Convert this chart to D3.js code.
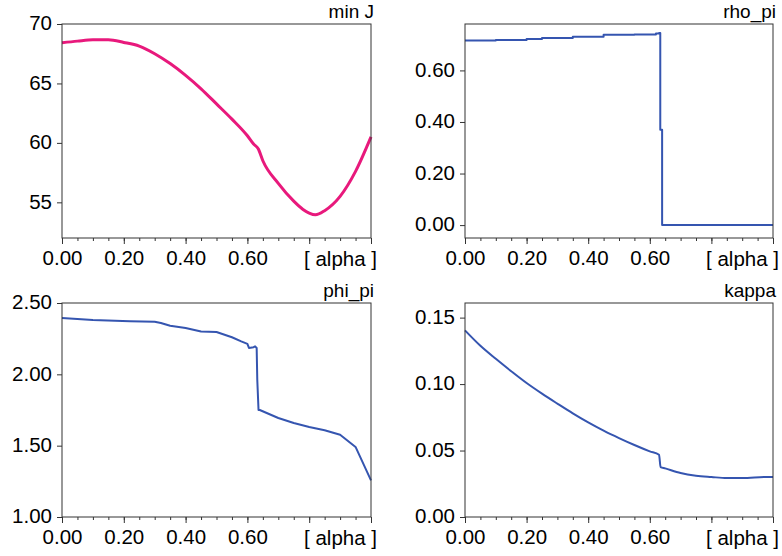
<!DOCTYPE html>
<html>
<head>
<meta charset="utf-8">
<script src="https://cdn.jsdelivr.net/npm/d3@7"></script>
<style>
  body { margin: 0; background: #fff; }
  svg { display: block; font-family: "Liberation Sans", Arial, sans-serif; }
</style>
</head>
<body>
<div id="chart"></div>
<script>
// alpha grid and values
const minJAlpha = [0, 0.05, 0.10, 0.15, 0.20, 0.25, 0.30, 0.35, 0.40, 0.45, 0.50, 0.55, 0.60, 0.62, 0.635, 0.65, 0.70, 0.75, 0.78, 0.80, 0.82, 0.85, 0.90, 0.95, 1.00];
const minJ = [68.42, 68.56, 68.67, 68.67, 68.45, 68.14, 67.5, 66.67, 65.68, 64.55, 63.28, 62.0, 60.6, 59.9, 59.5, 58.5, 56.6, 55.1, 54.4, 54.1, 53.95, 54.3, 55.5, 57.6, 60.5];

const rhoAlpha = [0, 0.10, 0.20, 0.25, 0.35, 0.45, 0.55, 0.62, 0.63, 0.634, 0.64, 1.00];
const rhoPi = [0.716, 0.718, 0.722, 0.726, 0.731, 0.738, 0.739, 0.743, 0.745, 0.37, 0, 0];

const phiAlpha = [0, 0.05, 0.10, 0.22, 0.30, 0.32, 0.35, 0.40, 0.45, 0.50, 0.55, 0.58, 0.60, 0.605, 0.62, 0.625, 0.63, 0.632, 0.636, 0.64, 0.70, 0.75, 0.80, 0.85, 0.90, 0.95, 1.00];
const phiPi = [2.395, 2.388, 2.381, 2.372, 2.369, 2.36, 2.341, 2.325, 2.30, 2.297, 2.26, 2.231, 2.213, 2.185, 2.19, 2.196, 2.185, 1.96, 1.75, 1.75, 1.694, 1.659, 1.631, 1.608, 1.577, 1.491, 1.257];

const kappaAlpha = [0, 0.05, 0.10, 0.15, 0.20, 0.25, 0.30, 0.35, 0.40, 0.45, 0.50, 0.55, 0.60, 0.63, 0.635, 0.65, 0.70, 0.75, 0.80, 0.85, 0.90, 0.98, 1.00];
const kappa = [0.1404, 0.1288, 0.1190, 0.1097, 0.1008, 0.0928, 0.0853, 0.0780, 0.0712, 0.0650, 0.0594, 0.0542, 0.0494, 0.0468, 0.0376, 0.0366, 0.0331, 0.0311, 0.0301, 0.0293, 0.0293, 0.0301, 0.0301];

const xMajorTicks = [0, 0.2, 0.4, 0.6, 0.8, 1.0];
const xLabelTicks = [0, 0.2, 0.4, 0.6];
const xMinorTicks = d3.range(0, 1.0001, 0.05);

const width = 782, height = 556;

const svg = d3.select("#chart").append("svg")
  .attr("width", width)
  .attr("height", height);

function panel(p) {
  const x = d3.scaleLinear().domain([0, 1]).range([p.left, p.right]);
  const y = d3.scaleLinear().domain(p.yDomain).range([p.bottom, p.top]);
  const g = svg.append("g");

  // minor x ticks
  g.append("g")
    .attr("transform", "translate(0," + p.bottom + ")")
    .call(d3.axisBottom(x).tickValues(xMinorTicks).tickSize(3).tickFormat(""))
    .call(a => a.select(".domain").remove());

  // major x ticks
  g.append("g")
    .attr("transform", "translate(0," + p.bottom + ")")
    .call(d3.axisBottom(x).tickValues(xMajorTicks).tickSize(6).tickPadding(6)
      .tickFormat(d => xLabelTicks.includes(d) ? d3.format(".2f")(d) : ""))
    .call(a => a.select(".domain").remove());

  g.append("g")
    .attr("transform", "translate(" + p.left + ",0)")
    .call(d3.axisLeft(y).tickValues(p.yTicks).tickSize(5).tickPadding(5).tickFormat(d3.format(p.yFormat)))
    .call(a => a.select(".domain").remove())
    .call(a => a.selectAll("text").attr("dy", "0.28em"));

  g.selectAll(".tick line").attr("stroke", "#333");
  g.selectAll(".tick text").attr("fill", "#000").style("font-size", "20.5px");

  g.append("text")
    .attr("x", p.right + 6)
    .attr("y", p.bottom + 28)
    .attr("text-anchor", "end")
    .attr("fill", "#000")
    .style("font-size", "20.5px")
    .text("[ alpha ]");

  g.append("text")
    .attr("x", p.right + 3)
    .attr("y", p.top - 6)
    .attr("text-anchor", "end")
    .attr("fill", "#000")
    .style("font-size", "19px")
    .text(p.title);

  const pts = p.alpha.map((a, i) => [a, p.values[i]]);
  g.append("path")
    .datum(pts)
    .attr("fill", "none")
    .attr("stroke", p.color)
    .attr("stroke-width", p.lineWidth)
    .attr("stroke-linejoin", "round")
    .attr("d", d3.line().x(d => x(d[0])).y(d => y(d[1])).curve(p.curve || d3.curveLinear));

  g.append("rect")
    .attr("x", p.left)
    .attr("y", p.top)
    .attr("width", p.right - p.left)
    .attr("height", p.bottom - p.top)
    .attr("fill", "none")
    .attr("stroke", "#333")
    .attr("stroke-width", 1);
}

panel({
  title: "min J", alpha: minJAlpha, values: minJ,
  left: 62, right: 371, top: 24, bottom: 238,
  yDomain: [52, 70], yTicks: [55, 60, 65, 70], yFormat: "d",
  color: "#e8197c", lineWidth: 3, curve: d3.curveMonotoneX
});

panel({
  title: "rho_pi", alpha: rhoAlpha, values: rhoPi,
  left: 465, right: 773, top: 24, bottom: 238,
  yDomain: [-0.05, 0.78], yTicks: [0, 0.2, 0.4, 0.6], yFormat: ".2f",
  color: "#3555b0", lineWidth: 2, curve: d3.curveStepAfter
});

panel({
  title: "phi_pi", alpha: phiAlpha, values: phiPi,
  left: 62, right: 371, top: 303, bottom: 517,
  yDomain: [1, 2.5], yTicks: [1, 1.5, 2, 2.5], yFormat: ".2f",
  color: "#3555b0", lineWidth: 2
});

panel({
  title: "kappa", alpha: kappaAlpha, values: kappa,
  left: 465, right: 773, top: 303, bottom: 517,
  yDomain: [0, 0.161], yTicks: [0, 0.05, 0.1, 0.15], yFormat: ".2f",
  color: "#3555b0", lineWidth: 2, curve: d3.curveMonotoneX
});
</script>
</body>
</html>
